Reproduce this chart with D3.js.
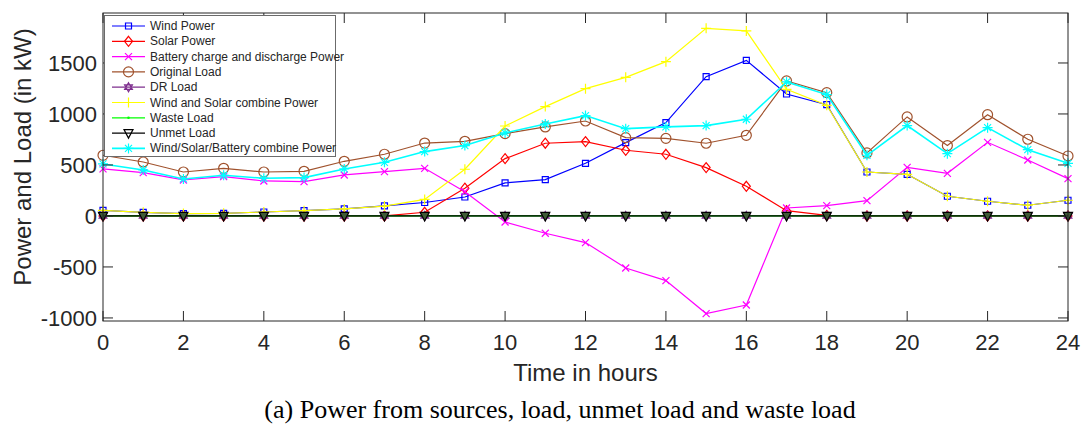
<!DOCTYPE html>
<html>
<head>
<meta charset="utf-8">
<script src="https://cdn.jsdelivr.net/npm/d3@7"></script>
<style>
  body { margin: 0; background: #fff; }
  svg { display: block; }
</style>
</head>
<body>
<div id="chart"></div>
<script>
"use strict";

// hours 0..24
let hours = d3.range(0, 25);

let windPower = [55, 36, 23, 26, 39, 52, 69, 98, 132, 186, 324, 356, 516, 719, 915, 1366, 1526, 1196, 1091, 431, 408, 193, 144, 105, 154];
let solarPower = [0, 0, 0, 0, 0, 0, 0, 0, 36, 272, 562, 713, 729, 644, 605, 474, 291, 52, 5, 0, 0, 0, 0, 0, 0];
let batteryPower = [461, 425, 353, 385, 343, 337, 402, 434, 467, 238, -59, -170, -261, -510, -634, -957, -873, 78, 101, 150, 477, 418, 722, 549, 366];
let originalLoad = [595, 529, 431, 467, 431, 438, 536, 605, 715, 732, 807, 873, 931, 768, 761, 713, 791, 1324, 1209, 618, 971, 690, 993, 752, 588];
let drLoad = [0, 0, 0, 0, 0, 0, 0, 0, 0, 0, 0, 0, 0, 0, 0, 0, 0, 0, 0, 0, 0, 0, 0, 0, 0];
let windSolar = [55, 36, 23, 26, 39, 52, 69, 97, 162, 458, 882, 1072, 1248, 1359, 1513, 1840, 1814, 1242, 1085, 431, 408, 193, 144, 105, 154];
let wasteLoad = [0, 0, 0, 0, 0, 0, 0, 0, 0, 0, 0, 0, 0, 0, 0, 0, 0, 0, 0, 0, 0, 0, 0, 0, 0];
let unmetLoad = [0, 0, 0, 0, 0, 0, 0, 0, 0, 0, 0, 0, 0, 0, 0, 0, 0, 0, 0, 0, 0, 0, 0, 0, 0];
let wsbPower = [510, 451, 363, 399, 369, 376, 461, 526, 631, 690, 814, 902, 984, 856, 873, 886, 948, 1314, 1190, 595, 886, 611, 866, 650, 516];

let xTicks = [0, 2, 4, 6, 8, 10, 12, 14, 16, 18, 20, 22, 24];
let yTicks = [-1000, -500, 0, 500, 1000, 1500];

let series = [
    { name: "Wind Power", values: windPower, color: "#0000ff", marker: "square" },
    { name: "Solar Power", values: solarPower, color: "#ff0000", marker: "diamond" },
    { name: "Battery charge and discharge Power", values: batteryPower, color: "#ff00ff", marker: "x" },
    { name: "Original Load", values: originalLoad, color: "#a0522d", marker: "circle" },
    { name: "DR Load", values: drLoad, color: "#7e2f8e", marker: "hexagram" },
    { name: "Wind and Solar combine Power", values: windSolar, color: "#ffff00", marker: "plus" },
    { name: "Waste Load", values: wasteLoad, color: "#00ff00", marker: "point" },
    { name: "Unmet Load", values: unmetLoad, color: "#000000", marker: "triangle", fill: "#3f5a36" },
    { name: "Wind/Solar/Battery combine Power", values: wsbPower, color: "#00ffff", marker: "asterisk", width: 1.6 }
];

let W = 1085, H = 425;
let plotL = 103, plotR = 1068, plotT = 13, plotB = 321;

let svg = d3.select("#chart").append("svg")
    .attr("width", W)
    .attr("height", H);

let x = d3.scaleLinear().domain([0, 24]).range([plotL, plotR]);
let y = d3.scaleLinear().domain([-1030, 1990]).range([plotB, plotT]);

let axisColor = "#262626";
let sans = "'Liberation Sans', Arial, sans-serif";

// marker shapes
function markerPath(type) {
    let p = d3.path();
    if (type === "square") {
        p.rect(-3, -3, 6, 6);
    } else if (type === "diamond") {
        p.moveTo(0, -5); p.lineTo(4, 0); p.lineTo(0, 5); p.lineTo(-4, 0); p.closePath();
    } else if (type === "x") {
        p.moveTo(-3.5, -3.5); p.lineTo(3.5, 3.5); p.moveTo(-3.5, 3.5); p.lineTo(3.5, -3.5);
    } else if (type === "circle") {
        p.arc(0, 0, 5, 0, 2 * Math.PI);
    } else if (type === "hexagram") {
        let r = 4.5;
        for (let k = 0; k < 2; k++) {
            for (let i = 0; i < 3; i++) {
                let a = -Math.PI / 2 + k * Math.PI + i * 2 * Math.PI / 3;
                if (i === 0) p.moveTo(r * Math.cos(a), r * Math.sin(a));
                else p.lineTo(r * Math.cos(a), r * Math.sin(a));
            }
            p.closePath();
        }
    } else if (type === "plus") {
        p.moveTo(-5, 0); p.lineTo(5, 0); p.moveTo(0, -5); p.lineTo(0, 5);
    } else if (type === "triangle") {
        p.moveTo(-4.5, -3.5); p.lineTo(4.5, -3.5); p.lineTo(0, 5); p.closePath();
    } else if (type === "asterisk") {
        p.moveTo(-5, 0); p.lineTo(5, 0); p.moveTo(0, -5); p.lineTo(0, 5);
        p.moveTo(-3.5, -3.5); p.lineTo(3.5, 3.5); p.moveTo(-3.5, 3.5); p.lineTo(3.5, -3.5);
    }
    return p.toString();
}

function drawMarker(g, s, cx, cy, fill) {
    if (s.marker === "point") {
        g.append("circle").attr("cx", cx).attr("cy", cy).attr("r", 1.3).attr("fill", s.color);
    } else {
        g.append("path")
            .attr("d", markerPath(s.marker))
            .attr("transform", `translate(${cx},${cy})`)
            .attr("fill", fill || "none")
            .attr("stroke", s.color)
            .attr("stroke-width", 1.2);
    }
}

// lines
let line = d3.line()
    .x((d, i) => x(hours[i]))
    .y(d => y(d));

series.forEach(s => {
    let g = svg.append("g");
    g.append("path")
        .datum(s.values)
        .attr("d", line)
        .attr("fill", "none")
        .attr("stroke", s.color)
        .attr("stroke-width", s.width || 1.2);
    s.values.forEach((v, i) => drawMarker(g, s, x(hours[i]), y(v), s.fill));
});

// axes box
let axes = svg.append("g");
axes.append("rect")
    .attr("x", plotL).attr("y", plotT)
    .attr("width", plotR - plotL).attr("height", plotB - plotT)
    .attr("fill", "none").attr("stroke", axisColor).attr("stroke-width", 1);

let tickLen = 10;
xTicks.forEach(t => {
    axes.append("line").attr("x1", x(t)).attr("x2", x(t))
        .attr("y1", plotB).attr("y2", plotB - tickLen).attr("stroke", axisColor);
    axes.append("line").attr("x1", x(t)).attr("x2", x(t))
        .attr("y1", plotT).attr("y2", plotT + tickLen).attr("stroke", axisColor);
    axes.append("text")
        .attr("x", x(t)).attr("y", plotB + 29)
        .attr("text-anchor", "middle")
        .attr("font-family", sans).attr("font-size", 22)
        .attr("fill", axisColor)
        .text(t);
});
yTicks.forEach(t => {
    axes.append("line").attr("x1", plotL).attr("x2", plotL + tickLen)
        .attr("y1", y(t)).attr("y2", y(t)).attr("stroke", axisColor);
    axes.append("line").attr("x1", plotR).attr("x2", plotR - tickLen)
        .attr("y1", y(t)).attr("y2", y(t)).attr("stroke", axisColor);
    axes.append("text")
        .attr("x", plotL - 6).attr("y", y(t) + 8)
        .attr("text-anchor", "end")
        .attr("font-family", sans).attr("font-size", 22)
        .attr("fill", axisColor)
        .text(t);
});

// axis labels
svg.append("text")
    .attr("x", (plotL + plotR) / 2).attr("y", 381)
    .attr("text-anchor", "middle")
    .attr("font-family", sans).attr("font-size", 24)
    .attr("fill", axisColor)
    .text("Time in hours");

svg.append("text")
    .attr("transform", `translate(31,${(plotT + plotB) / 2 - 10}) rotate(-90)`)
    .attr("text-anchor", "middle")
    .attr("font-family", sans).attr("font-size", 24)
    .attr("fill", axisColor)
    .text("Power and Load (in kW)");

// caption
svg.append("text")
    .attr("x", 560).attr("y", 418)
    .attr("text-anchor", "middle")
    .attr("font-family", "'Liberation Serif', 'Times New Roman', serif")
    .attr("font-size", 26)
    .attr("fill", "#000")
    .text("(a) Power from sources, load, unmet load and waste load");

// legend
let lg = svg.append("g");
lg.append("rect")
    .attr("x", 104.5).attr("y", 15.5)
    .attr("width", 231).attr("height", 141)
    .attr("fill", "#fff").attr("stroke", "#6b6b6b").attr("stroke-width", 1);

series.forEach((s, i) => {
    let cy = 26 + i * 15.3;
    lg.append("line")
        .attr("x1", 112).attr("x2", 145)
        .attr("y1", cy).attr("y2", cy)
        .attr("stroke", s.color).attr("stroke-width", s.width || 1.2);
    drawMarker(lg, s, 128.5, cy);
    lg.append("text")
        .attr("x", 150).attr("y", cy + 4)
        .attr("font-family", sans).attr("font-size", 12)
        .attr("fill", axisColor)
        .text(s.name);
});
</script>
</body>
</html>
